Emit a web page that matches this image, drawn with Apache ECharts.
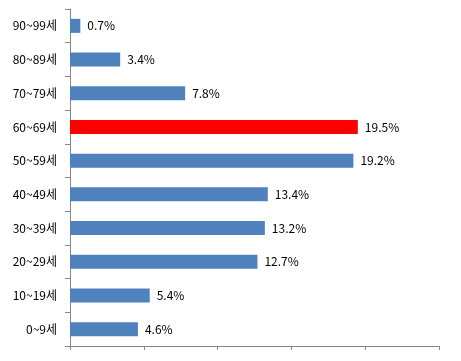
<!DOCTYPE html>
<html><head><meta charset="utf-8">
<script src="https://cdn.jsdelivr.net/npm/echarts@6/dist/echarts.min.js"></script>
<style>html,body{margin:0;padding:0;background:#fff}#c{width:461px;height:361px}</style>
</head><body><div id="c"></div>
<script>
const categories = ['0~9세','10~19세','20~29세','30~39세','40~49세','50~59세','60~69세','70~79세','80~89세','90~99세'];
const values = [4.6, 5.4, 12.7, 13.2, 13.4, 19.2, 19.5, 7.8, 3.4, 0.7];
const highlight = '60~69세';
const chart = echarts.init(document.getElementById('c'));
const font = '"Noto Sans CJK KR", "Noto Sans", sans-serif';
chart.setOption({
  animation: false,
  grid: {left: 70, right: 22, top: 9, bottom: 15, containLabel: false},
  xAxis: {
    type: 'value', min: 0, max: 25, interval: 5,
    axisLine: {show: true, lineStyle: {color: '#868686', width: 1}},
    axisTick: {show: true, length: 4, lineStyle: {color: '#868686'}},
    axisLabel: {show: false},
    splitLine: {show: false}
  },
  yAxis: {
    type: 'category', data: categories,
    axisLine: {show: true, lineStyle: {color: '#868686', width: 1}},
    axisTick: {show: true, length: 5, lineStyle: {color: '#868686'}},
    axisLabel: {color: '#000', fontSize: 12, fontFamily: font, margin: 13}
  },
  series: [{
    type: 'bar',
    barWidth: 14,
    data: values.map((v, i) => ({value: v, itemStyle: {color: categories[i] === highlight ? '#FF0000' : '#4F81BD'}})),
    label: {show: true, position: 'right', distance: 7, color: '#000', fontSize: 12, fontFamily: font,
      formatter: p => p.value.toFixed(1) + '%'}
  }]
});
</script></body></html>
